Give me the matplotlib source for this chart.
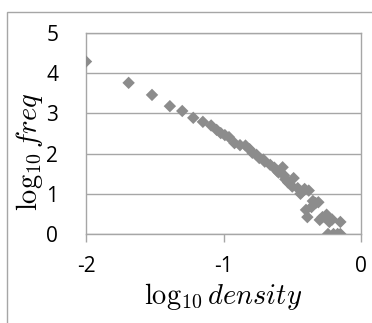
import matplotlib
matplotlib.use("Agg")
import matplotlib.pyplot as plt
from matplotlib.patches import Rectangle

log_density = [-2.00, -1.69, -1.52, -1.39, -1.30, -1.22, -1.15, -1.09, -1.05, -1.02,
               -0.99, -0.96, -0.92, -0.88, -0.84, -0.81, -0.79, -0.76, -0.74, -0.71,
               -0.70, -0.66, -0.63, -0.61, -0.60, -0.57, -0.56, -0.55, -0.53, -0.49,
               -0.50, -0.46, -0.44, -0.43, -0.41, -0.38, -0.35, -0.33, -0.31, -0.36,
               -0.40, -0.39, -0.30, -0.28, -0.25, -0.23, -0.21, -0.15, -0.24, -0.20,
               -0.17, -0.15]
log_freq = [4.29, 3.76, 3.46, 3.18, 3.06, 2.89, 2.79, 2.70, 2.59, 2.51,
            2.46, 2.41, 2.26, 2.21, 2.20, 2.11, 2.02, 1.97, 1.89, 1.85,
            1.80, 1.72, 1.65, 1.57, 1.53, 1.66, 1.46, 1.36, 1.28, 1.39,
            1.18, 1.14, 1.00, 1.05, 1.12, 1.08, 0.82, 0.77, 0.79, 0.67,
            0.60, 0.42, 0.35, 0.42, 0.48, 0.30, 0.36, 0.30, 0.00, 0.00,
            0.00, 0.00]

x_ticks = [-2, -1, 0]
y_ticks = [0, 1, 2, 3, 4, 5]

plt.rcParams['mathtext.fontset'] = 'cm'

fig = plt.figure(figsize=(3.72, 3.23), dpi=100)
fig.patches.append(Rectangle((7/372, -0.1), 1.2, 1 - 12/323 + 0.1,
                             transform=fig.transFigure, fill=False,
                             edgecolor='#a6a6a6', linewidth=1.0))

ax = fig.add_axes([86/372, 1 - 234/323, (361 - 86)/372, (234 - 33)/323])
ax.scatter(log_density, log_freq, marker='D', s=40, color='#8c8c8c',
           edgecolors='none', zorder=3)

ax.set_xlim(-2, 0)
ax.set_ylim(0, 5)
ax.set_xticks(x_ticks)
ax.set_yticks(y_ticks)
ax.set_xticklabels([str(t) for t in x_ticks], fontfamily='Open Sans', fontsize=15)
ax.set_yticklabels([str(t) for t in y_ticks], fontfamily='Open Sans', fontsize=15)
ax.grid(axis='y', color='#a6a6a6', linewidth=1.0)
for s in ax.spines.values():
    s.set_color('#a6a6a6')
    s.set_linewidth(1.0)
ax.tick_params(axis='x', direction='out', length=6, width=1, color='#a6a6a6', pad=10)
ax.tick_params(axis='y', length=0, pad=20)

ax.set_xlabel(r'$\log_{10} density$', fontsize=20.5)
ax.set_ylabel(r'$\log_{10} freq$', fontsize=20.5)
ax.xaxis.set_label_coords(0.5, -0.235)
ax.yaxis.set_label_coords(-0.15, 0.41)

fig.savefig('out.png', dpi=100)
